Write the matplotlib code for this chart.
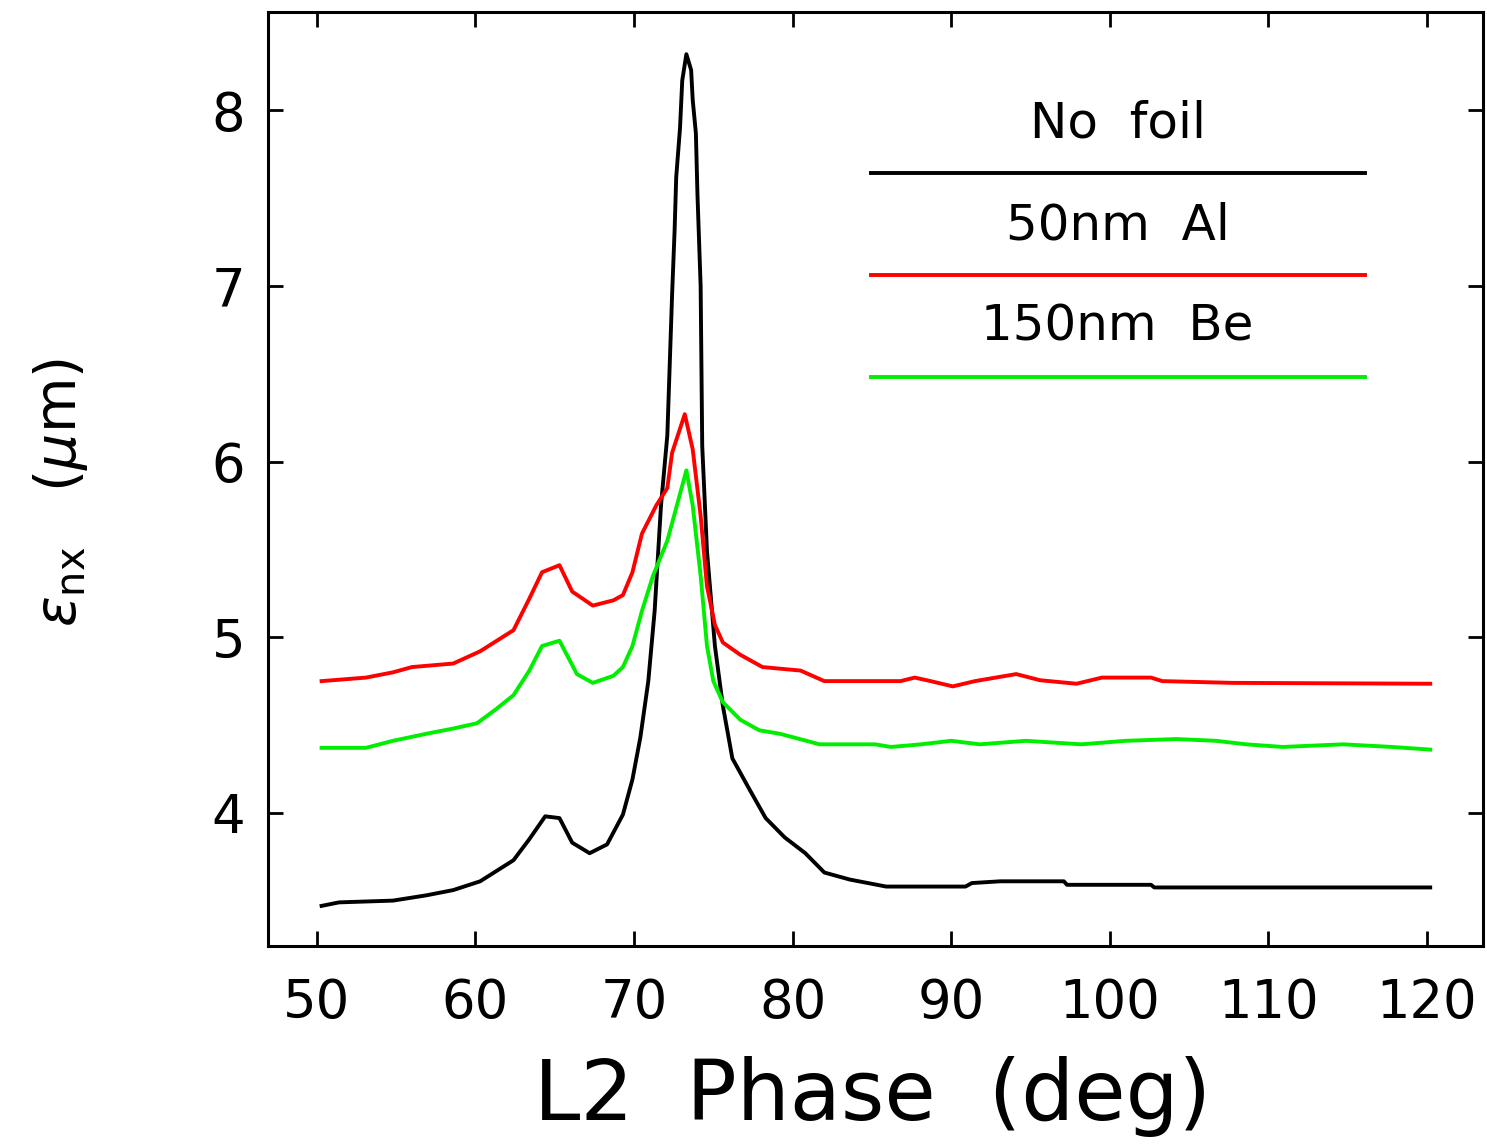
import numpy as np
import matplotlib
matplotlib.use("Agg")
import matplotlib.pyplot as plt

#%% data (L2 phase in deg, emittance in um)

x_nofoil = [50.3, 51.4, 54.8, 56.9, 58.6, 60.3, 62.4, 63.4, 64.4, 65.3, 66.1, 67.2,
            68.3, 69.3, 69.9, 70.4, 70.9, 71.3, 71.7, 72.1, 72.4, 72.56, 72.66, 72.9,
            73.04, 73.3, 73.6, 73.7, 73.9, 74.0, 74.2, 74.3, 74.6, 75.1, 75.6, 76.2,
            77.3, 78.3, 79.5, 80.8, 82.0, 83.6, 85.9, 90.9, 91.3, 93.1, 97.1, 97.3,
            102.6, 102.8, 120.2]
y_nofoil = [3.47, 3.49, 3.50, 3.53, 3.56, 3.61, 3.73, 3.85, 3.98, 3.97, 3.83, 3.77,
            3.82, 3.99, 4.19, 4.43, 4.75, 5.15, 5.75, 6.15, 6.95, 7.32, 7.62, 7.90,
            8.17, 8.32, 8.23, 8.06, 7.87, 7.52, 7.00, 6.09, 5.49, 4.95, 4.61, 4.31,
            4.13, 3.97, 3.86, 3.77, 3.66, 3.62, 3.58, 3.58, 3.60, 3.61, 3.61, 3.59,
            3.59, 3.575, 3.575]

x_al = [50.3, 53.1, 54.8, 56.0, 58.6, 60.3, 62.4, 63.4, 64.2, 65.3, 66.1, 67.4,
        68.7, 69.3, 69.9, 70.5, 71.4, 72.1, 72.4, 73.2, 73.7, 74.2, 74.6, 75.1,
        75.6, 76.7, 78.1, 80.5, 82.0, 86.8, 87.7, 88.7, 90.1, 91.5, 94.1, 95.6,
        97.9, 99.5, 102.6, 103.3, 107.7, 120.2]
y_al = [4.75, 4.77, 4.80, 4.83, 4.85, 4.92, 5.04, 5.22, 5.37, 5.41, 5.26, 5.18,
        5.21, 5.24, 5.37, 5.59, 5.75, 5.85, 6.05, 6.27, 6.07, 5.69, 5.29, 5.07,
        4.97, 4.90, 4.83, 4.81, 4.75, 4.75, 4.77, 4.75, 4.72, 4.75, 4.79, 4.755,
        4.735, 4.77, 4.77, 4.75, 4.74, 4.735]

x_be = [50.3, 53.1, 54.8, 56.9, 58.6, 60.1, 61.3, 62.4, 63.4, 64.2, 65.3, 66.4,
        67.4, 68.7, 69.3, 69.9, 70.5, 71.2, 72.1, 72.7, 73.3, 73.7, 74.2, 74.6,
        75.0, 75.6, 76.7, 77.9, 79.2, 81.7, 85.2, 86.2, 88.1, 90.0, 91.8, 94.7,
        98.2, 101.0, 104.2, 106.7, 108.6, 110.9, 114.7, 117.8, 120.2]
y_be = [4.37, 4.37, 4.41, 4.45, 4.48, 4.51, 4.59, 4.67, 4.81, 4.95, 4.98, 4.79,
        4.74, 4.78, 4.83, 4.95, 5.15, 5.35, 5.55, 5.75, 5.95, 5.75, 5.35, 4.95,
        4.75, 4.63, 4.53, 4.47, 4.45, 4.39, 4.39, 4.375, 4.39, 4.41, 4.39, 4.41,
        4.39, 4.41, 4.42, 4.41, 4.39, 4.375, 4.39, 4.375, 4.36]

labels = ["No  foil", "50nm  Al", "150nm  Be"]
colors = ["black", "#ff0000", "#00ee00"]

xticks = np.arange(50, 121, 10)
yticks = [4, 5, 6, 7, 8]

#%% figure

plt.rcParams['font.family'] = ['DejaVu Sans']
plt.rcParams['mathtext.fontset'] = 'dejavusans'

fig = plt.figure(figsize=(14.87, 11.47), dpi=100)
ax = fig.add_axes([0.180, 0.175, 0.817, 0.8145])

lw = 2.8
series = [(x_nofoil, y_nofoil), (x_al, y_al), (x_be, y_be)]
for (xs, ys), c in zip(series, colors):
    ax.plot(xs, ys, color=c, linewidth=lw)

ax.set_xlim(46.9, 123.5)
ax.set_ylim(3.24, 8.56)
ax.set_xticks(xticks)
ax.set_yticks(yticks)

for s in ax.spines.values():
    s.set_linewidth(2.2)
ax.tick_params(direction='in', length=11, width=2.0, top=True, right=True,
               labelsize=38)
ax.tick_params(axis='x', pad=22)
ax.tick_params(axis='y', pad=16)

ax.set_xlabel("L2  Phase  (deg)", fontsize=60)
ax.xaxis.set_label_coords(0.498, -0.117)
ax.set_ylabel(r"$\varepsilon_{\rm nx}$   ($\mu$m)", fontsize=41)
ax.yaxis.set_label_coords(-0.146, 0.486)

# hand-made legend: text above each line sample
text_y = [0.881, 0.772, 0.663]
line_y = [0.828, 0.718, 0.609]
for lab, c, ty, ly in zip(labels, colors, text_y, line_y):
    ax.text(0.6996, ty, lab, transform=ax.transAxes, ha='center', va='center',
            fontsize=36)
    ax.plot([0.497, 0.903], [ly, ly], transform=ax.transAxes, color=c,
            linewidth=lw)

fig.savefig("out.png", dpi=100)
